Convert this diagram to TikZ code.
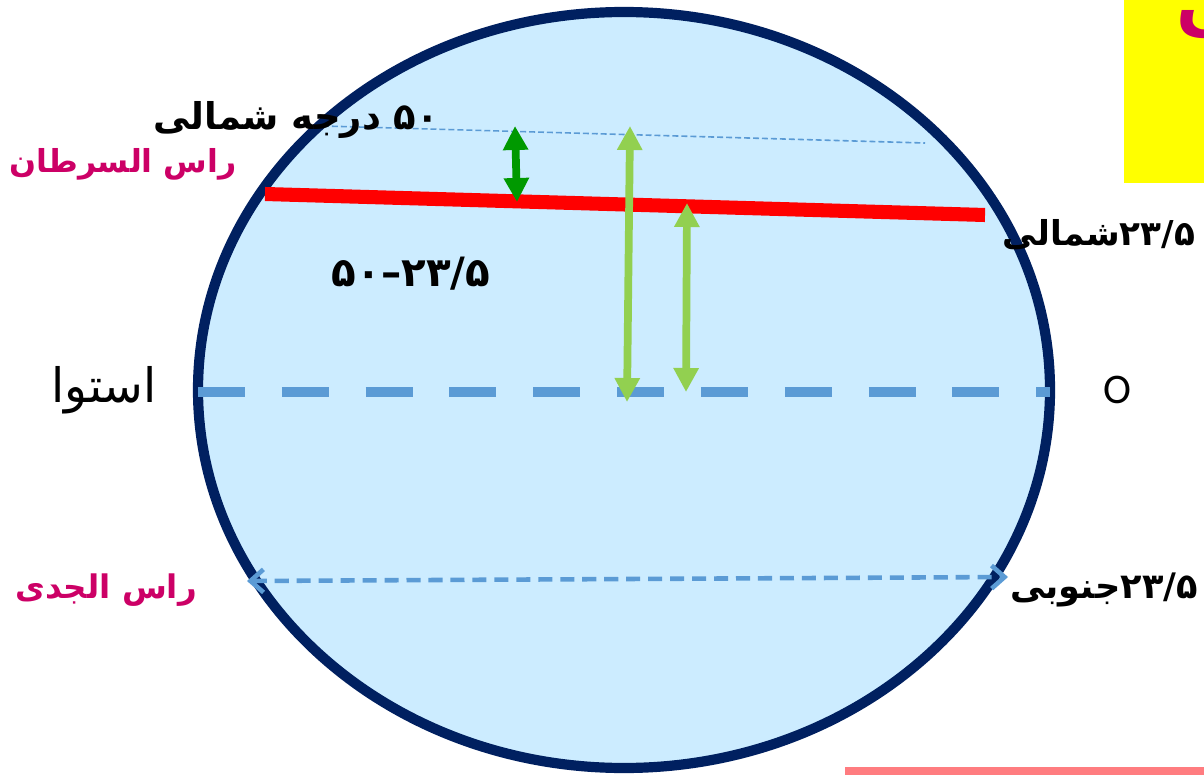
\documentclass[tikz,border=0pt]{standalone}
\usepackage{fontspec}
\usetikzlibrary{arrows.meta}
\TeXXeTstate=1
\newfontfamily\farsi[Script=Arabic]{DejaVu Sans}
\newfontfamily\lat{Carlito}
\definecolor{nacht}{HTML}{002060}
\definecolor{himmel}{HTML}{CCECFF}
\definecolor{strich}{HTML}{5B9BD5}
\definecolor{gruen}{HTML}{009900}
\definecolor{hgruen}{HTML}{92D050}
\definecolor{purpur}{HTML}{CC0066}
\definecolor{gelb}{HTML}{FFFF00}
\definecolor{rosa}{HTML}{FF7C80}
\tikzset{
  kugel/.style={fill=himmel,draw=nacht,line width=5.8pt},
  aequator/.style={strich,line width=6.2pt,dash pattern=on 26.7pt off 21pt},
  hilf/.style={strich,line width=0.9pt,dash pattern=on 3.4pt off 1.7pt},
  wende/.style={red,line width=8pt},
  pfeil/.style={{Triangle[length=4.8mm,width=4.8mm]}-{Triangle[length=4.8mm,width=4.8mm]},line width=4.4pt},
  pfeild/.style={{Straight Barb[length=2.6mm,width=4.6mm]}-{Straight Barb[length=2.6mm,width=4.6mm]},strich,line width=2.6pt,dash pattern=on 8pt off 4.5pt},
  txt/.style={inner sep=0pt,font=\farsi\bfseries\fontsize{#1}{#1}\selectfont},
  txtm/.style={txt=#1,purpur},
}

\begin{document}
\begin{tikzpicture}[x=0.2mm,y=-0.2mm]
  \useasboundingbox (0,0) rectangle (1204,775);
  % Kasten oben rechts
  \fill[gelb] (1124,0) rectangle (1204,183);
  \begin{scope}
    \clip (1124,0) rectangle (1204,183);
    \node[txtm=40,anchor=base west] (frage) at (1176,22) {\beginR تمرین\endR};
  \end{scope}
  \fill[rosa] (845,767) rectangle (1204,775);
  % Erde
  \draw[kugel] (624,390) ellipse [x radius=426,y radius=378];
  \coordinate (aeqw) at (198,392);
  \coordinate (aeqo) at (1050,392);
  \draw[aequator] (aeqw) -- (aeqo);
  \coordinate (hw) at (323,126);
  \coordinate (ho) at (925,143);
  \draw[hilf] (hw) -- (ho);
  \coordinate (krw) at (265,194);
  \coordinate (kro) at (985,215);
  \draw[wende] (krw) -- (kro);
  \coordinate (sbw) at (247,581);
  \coordinate (sbo) at (1008,577);
  \draw[pfeild] (sbw) -- (sbo);
  % Pfeile
  \coordinate (g1) at (515,126);
  \coordinate (g2) at (517,202);
  \draw[pfeil,gruen] (g1) -- (g2);
  \coordinate (l1) at (630,126);
  \coordinate (l2) at (627,402);
  \draw[pfeil,hgruen] (l1) -- (l2);
  \coordinate (m1) at (687,203);
  \coordinate (m2) at (686,392);
  \draw[pfeil,hgruen] (m1) -- (m2);
  % Beschriftung
  \node[txt=21] (nordgrad) at (296,120) {\beginR\beginL ۵۰\endL{} درجه شمالی\endR};
  \node[txtm=18] (krebs) at (123,164) {\beginR راس السرطان\endR};
  \node[txt=19.5] (nord) at (1099,235) {\beginR\beginL ۲۳/۵\endL{}شمالی\endR};
  \node[txt=23] (diff) at (411,274) {\beginR ۲۳/۵–۵۰\endR};
  \node[txt=27,font=\farsi\fontsize{27}{30}\selectfont] (aeq) at (104,390) {\beginR استوا\endR};
  \node[inner sep=0pt,font=\lat\fontsize{24}{28}\selectfont] (null) at (1117,390) {O};
  \node[txtm=18.5] (steinbock) at (106,590) {\beginR راس الجدی\endR};
  \node[txt=20] (sued) at (1104,590) {\beginR\beginL ۲۳/۵\endL{}جنوبی\endR};
\end{tikzpicture}
\end{document}
